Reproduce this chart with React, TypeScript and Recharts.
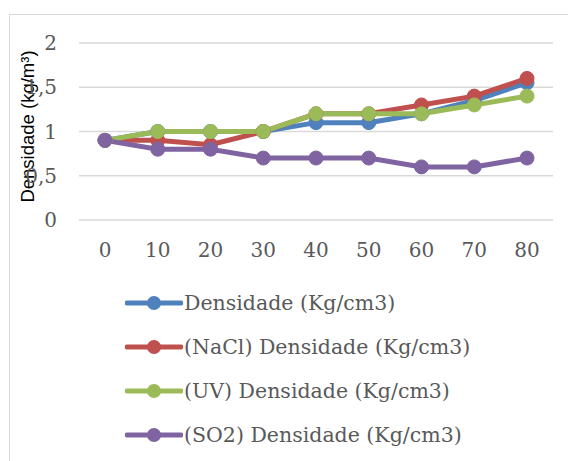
import React from "react";
import { LineChart, Line, XAxis, YAxis, CartesianGrid, Legend } from "recharts";

const categories = ["0", "10", "20", "30", "40", "50", "60", "70", "80"];
const densidade = [0.9, 1.0, 1.0, 1.0, 1.1, 1.1, 1.2, 1.35, 1.55];
const nacl = [0.9, 0.9, 0.85, 1.0, 1.2, 1.2, 1.3, 1.4, 1.6];
const uv = [0.9, 1.0, 1.0, 1.0, 1.2, 1.2, 1.2, 1.3, 1.4];
const so2 = [0.9, 0.8, 0.8, 0.7, 0.7, 0.7, 0.6, 0.6, 0.7];
const yTicks = [0, 0.5, 1, 1.5, 2];

const seriesNames = [
  "Densidade (Kg/cm3)",
  "(NaCl) Densidade (Kg/cm3)",
  "(UV) Densidade (Kg/cm3)",
  "(SO2) Densidade (Kg/cm3)",
];
const colors = ["#4f81bd", "#c0504d", "#9bbb59", "#8064a2"];

const data = categories.map((c, i) => ({
  x: c,
  s0: densidade[i],
  s1: nacl[i],
  s2: uv[i],
  s3: so2[i],
}));

const serif = "'DejaVu Serif', serif";

const LegendContent = () => {
  return (
    <div style={{ display: "flex", flexDirection: "column", paddingLeft: 125 }}>
      {seriesNames.map((n, i) => (
        <div key={n} style={{ display: "flex", alignItems: "center", height: 44 }}>
          <svg width={58} height={20} style={{ display: "block" }}>
            <line x1={2} y1={10} x2={56} y2={10} stroke={colors[i]} strokeWidth={5} strokeLinecap="round" />
            <circle cx={29} cy={10} r={7} fill={colors[i]} />
          </svg>
          <span style={{ fontFamily: serif, fontSize: 20.5, color: "#595959", marginLeft: 1, whiteSpace: "nowrap" }}>
            {n}
          </span>
        </div>
      ))}
    </div>
  );
};

const YLabel = (props: any) => {
  const vb = props.viewBox || { x: 0, y: 0, width: 0, height: 0 };
  const cx = vb.x + 27;
  const cy = vb.y + vb.height / 2 - 5;
  return (
    <text
      x={cx}
      y={cy}
      transform={`rotate(-90 ${cx} ${cy})`}
      textAnchor="middle"
      dominantBaseline="central"
      style={{ fontFamily: "'Liberation Sans', Arial, sans-serif", fontSize: 18.5, fill: "#000" }}
    >
      Densidade (kg/m³)
    </text>
  );
};

const fmt = (v: number) => String(v).replace(".", ",");

export default function App() {
  return (
    <div style={{ position: "fixed", left: 0, top: 0, width: 568, height: 461, overflow: "hidden", background: "#fff" }}>
      <div
        style={{
          position: "absolute",
          left: 9,
          top: 14,
          width: 580,
          height: 480,
          border: "1.5px solid #d9d9d9",
        }}
      />
      <div style={{ position: "absolute", left: 0, top: 0 }}>
        <LineChart width={568} height={461} data={data} margin={{ top: 43, right: 15, bottom: 0, left: 0 }}>
          <CartesianGrid vertical={false} stroke="#d9d9d9" strokeWidth={1.5} />
          <XAxis
            dataKey="x"
            axisLine={false}
            tickLine={false}
            tickSize={0}
            tickMargin={23}
            height={61}
            padding={{ left: 26, right: 26 }}
            tick={{ fill: "#595959", fontFamily: serif, fontSize: 20 }}
          />
          <YAxis
            domain={[0, 2]}
            ticks={yTicks}
            axisLine={false}
            tickLine={false}
            tickSize={0}
            tickMargin={22}
            width={79}
            tickFormatter={fmt}
            tick={{ fill: "#595959", fontFamily: serif, fontSize: 20 }}
            label={<YLabel />}
          />
          <Legend
            verticalAlign="bottom"
            align="left"
            layout="horizontal"
            height={180}
            content={<LegendContent />}
          />
          {seriesNames.map((n, i) => (
            <Line
              key={n}
              type="linear"
              dataKey={`s${i}`}
              name={n}
              stroke={colors[i]}
              strokeWidth={5}
              dot={{ r: 7, fill: colors[i], stroke: colors[i], strokeWidth: 1 }}
              activeDot={false}
              isAnimationActive={false}
            />
          ))}
        </LineChart>
      </div>
    </div>
  );
}
